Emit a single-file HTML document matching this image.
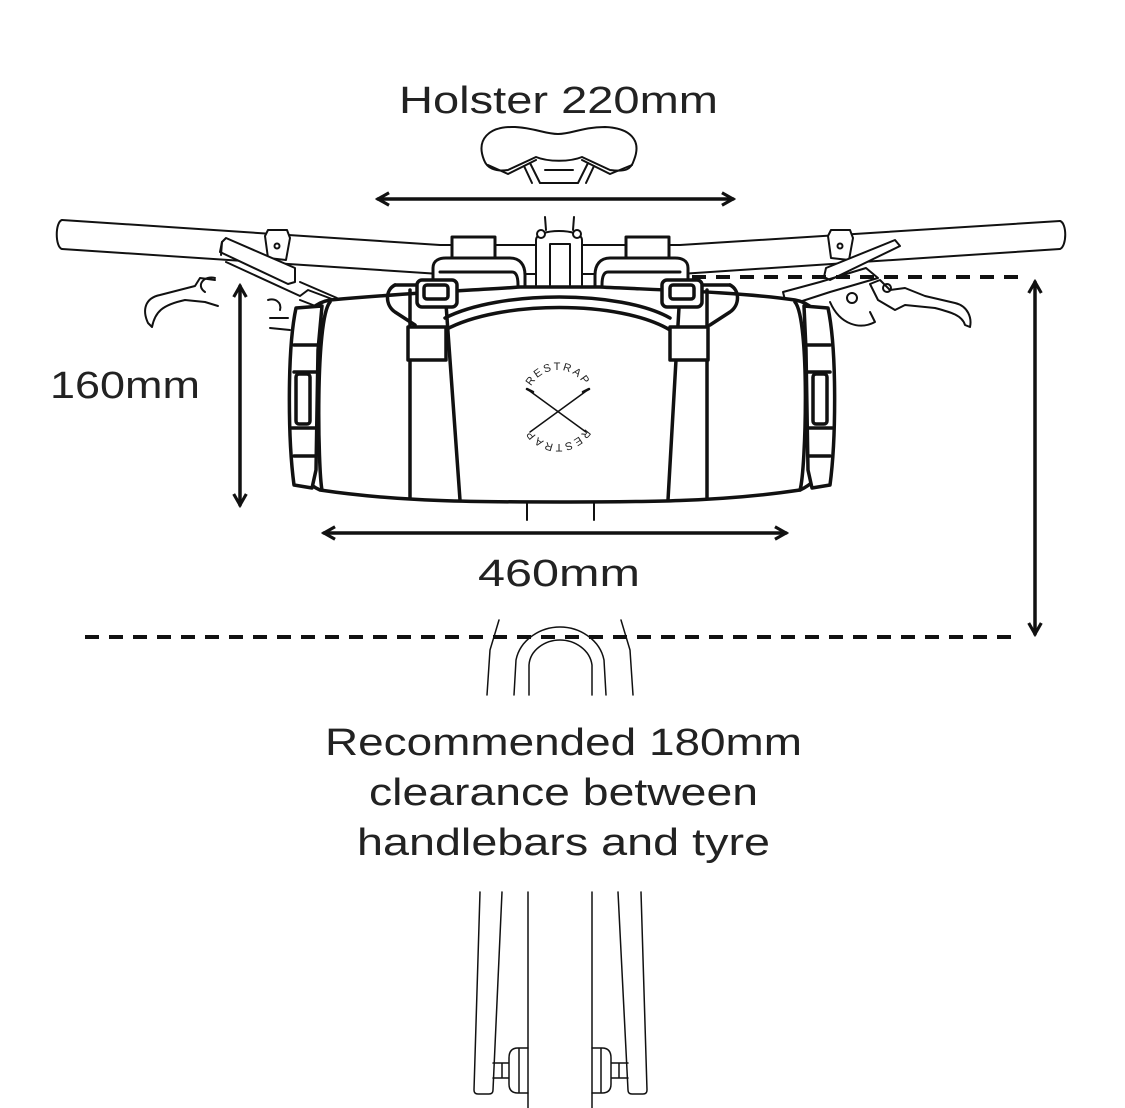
<!DOCTYPE html>
<html><head><meta charset="utf-8"><style>
html,body{margin:0;padding:0;background:#fff;}
svg{display:block}
text{font-family:"Liberation Sans",sans-serif;fill:#222;}
</style></head><body>
<svg width="1125" height="1108" viewBox="0 0 1125 1108" xmlns="http://www.w3.org/2000/svg">
<defs>
<marker id="ah" viewBox="0 0 10 10" refX="8" refY="5" markerWidth="4.5" markerHeight="4.5" orient="auto-start-reverse">
<path d="M1,1 L8,5 L1,9" fill="none" stroke="#111" stroke-width="2"/>
</marker>
<path id="arcTop" d="M528,400 A30,30 0 0 1 588,400"/>
<path id="arcBot" d="M590,412 A32,32 0 0 1 526,412"/>
</defs>
<g fill="none" stroke="#111" stroke-width="2" stroke-linejoin="round" stroke-linecap="round">
<!-- saddle -->
<path d="M484,160 C476,140 488,126 515,127 C535,128 545,134 558,134 C572,134 582,127 605,127 C630,128 642,140 634,160 C631,170 625,172 610,170 L582,157 C570,162 548,162 536,157 L508,170 C495,172 487,168 484,160 Z" fill="#fff"/>
<path d="M488,165 L508,174 L536,160 M632,165 L610,174 L582,160"/>
<path d="M524,166 L532,183 M530,163 L540,183 M594,166 L586,183 M588,163 L578,183 M540,183 L578,183 M545,170 L573,170"/>
<!-- handlebar -->
<path d="M62,220 L440,245 L680,245 L1060,221 M62,249 L440,274 L680,274 L1060,249" />
<path d="M62,220 C55,222 55,247 62,249 M1060,221 C1067,223 1067,246 1060,249"/>
<!-- left lever -->
<path d="M265,236 L268,230 L287,230 L290,238 L286,260 L268,258 Z" fill="#fff"/>
<circle cx="277" cy="246" r="2.5"/>
<path d="M222,242 L226,238 L295,268 L295,282 L288,284 L220,252 Z" fill="#fff"/>
<path d="M222,242 L221,255 M226,262 L300,296 L308,290 L340,302 L336,314 L300,300"/>
<path d="M300,282 L337,298"/>
<path d="M215,280 L200,278 L195,286 L160,295 C145,298 142,310 148,323 L152,327 C155,312 162,305 185,300 L205,302 L218,306"/>
<path d="M205,292 C195,285 205,275 215,278"/>
<path d="M268,300 C275,298 282,302 280,310 M270,318 L288,318 M270,328 L290,330"/>
<!-- right lever -->
<path d="M828,236 L831,230 L850,230 L853,238 L849,260 L831,258 Z" fill="#fff"/>
<circle cx="840" cy="246" r="2.5"/>
<path d="M895,240 L900,246 L830,280 L824,277 L826,268 Z" fill="#fff"/>
<path d="M785,300 L783,292 L820,282 L866,268 L878,278 L830,292 L790,305"/>
<circle cx="852" cy="298" r="5"/>
<path d="M830,302 C840,325 860,330 875,322 L870,312"/>
<path d="M870,284 L880,280 L890,290 L905,288 L925,296 L955,303 C968,306 972,318 970,327 L965,325 C962,315 950,312 935,308 L905,305 L895,310 L878,300 Z" fill="#fff"/>
<circle cx="887" cy="288" r="4"/>
<!-- stem -->
<path d="M536,285 L536,240 C536,228 582,228 582,240 L582,285" fill="#fff"/>
<path d="M550,285 L550,244 L570,244 L570,285"/>
<circle cx="541" cy="234" r="4" fill="#fff"/><circle cx="577" cy="234" r="4" fill="#fff"/>
<path d="M545,217 L546,230 M574,217 L573,230"/>
<!-- holsters -->
<rect x="452" y="237" width="43" height="22" fill="#fff" stroke-width="3"/>
<rect x="626" y="237" width="43" height="22" fill="#fff" stroke-width="3"/>
<path d="M433,285 L433,268 C433,260 440,258 446,258 L510,258 C520,258 525,265 525,275 L525,288" fill="#fff" stroke-width="3"/>
<path d="M440,272 L512,272 C516,272 518,276 518,285" stroke-width="3"/>
<path d="M595,288 L595,275 C595,265 600,258 610,258 L675,258 C681,258 688,260 688,268 L688,285" fill="#fff" stroke-width="3"/>
<path d="M602,285 C602,276 604,272 608,272 L680,272" stroke-width="3"/>
<!-- bag body -->
<g stroke-width="3.5">
<path d="M330,300 C420,292 480,290 520,287 L600,287 C660,290 740,292 795,300 C825,305 832,340 832,400 C832,460 822,480 800,490 C720,502 640,502 560,502 C480,502 400,502 320,490 C298,480 290,460 290,400 C290,340 300,305 330,300 Z" fill="#fff"/>
<path d="M330,302 C315,320 318,470 322,490"/>
<path d="M795,302 C810,320 806,470 800,490"/>
<path d="M296,308 L322,306 L318,350 L316,470 L312,488 L294,485 C288,440 287,350 296,308 Z" fill="#fff"/>
<path d="M828,308 L804,306 L806,350 L808,470 L812,488 L830,485 C836,440 837,350 828,308 Z" fill="#fff"/>
<path d="M294,345 L318,345 M294,372 L318,372 M292,428 L316,428 M294,456 L316,456"/>
<path d="M830,345 L806,345 M830,372 L806,372 M832,428 L808,428 M830,456 L808,456"/>
<rect x="296" y="374" width="14" height="50" rx="3" fill="#fff"/>
<rect x="813" y="374" width="14" height="50" rx="3" fill="#fff"/>
<path d="M395,285 C385,290 385,305 395,312 L415,325 M730,285 C740,290 740,305 730,312 L710,325"/>
<path d="M395,285 L440,285 M730,285 L690,285"/>
<path d="M445,318 C500,290 620,290 670,318 M445,330 C500,300 620,300 670,330"/>
<path d="M410,290 L410,498 M445,290 L460,500 M680,290 L668,500 M707,290 L707,498" />
<rect x="408" y="327" width="38" height="33" fill="#fff"/>
<rect x="670" y="327" width="38" height="33" fill="#fff"/>
<rect x="417" y="280" width="40" height="27" rx="5" fill="#fff"/>
<rect x="662" y="280" width="40" height="27" rx="5" fill="#fff"/>
<rect x="424" y="285" width="24" height="14" rx="3"/>
<rect x="670" y="285" width="24" height="14" rx="3"/>
</g>
<path d="M527,503 L527,520 M594,503 L594,520"/>
<path d="M527,389 L586,432 M589,389 L530,432" stroke-width="1.5"/>
<path d="M527,389 L533,392 M589,389 L583,392" stroke-width="2.5"/>
<!-- arrows -->
<path d="M378,199 L733,199" stroke-width="3.5" marker-start="url(#ah)" marker-end="url(#ah)"/>
<path d="M240,286 L240,505" stroke-width="3.5" marker-start="url(#ah)" marker-end="url(#ah)"/>
<path d="M324,533 L786,533" stroke-width="3.5" marker-start="url(#ah)" marker-end="url(#ah)"/>
<path d="M1035,282 L1035,634" stroke-width="3.5" marker-start="url(#ah)" marker-end="url(#ah)"/>
<path d="M692,277 L1020,277" stroke-width="4" stroke-dasharray="14,10" stroke-linecap="butt"/>
<path d="M85,637 L1020,637" stroke-width="4" stroke-dasharray="14,10" stroke-linecap="butt"/>
<g stroke-width="1.5">
<path d="M487,695 L490,650 L499,620 M633,695 L630,650 L621,620"/>
<path d="M514,695 L516,660 C520,640 540,627 560,627 C580,627 600,640 604,660 L606,695"/>
<path d="M529,695 L529,665 C530,650 545,640 560,640 C575,640 590,650 592,665 L592,695"/>
<path d="M480,892 L474,1090 Q474,1094 478,1094 L489,1094 Q493,1094 493,1090 L502,892"/>
<path d="M641,892 L647,1090 Q647,1094 643,1094 L632,1094 Q628,1094 628,1090 L618,892"/>
<path d="M528,892 L528,1108 M592,892 L592,1108"/>
<path d="M528,1048 L518,1048 Q509,1048 509,1058 L509,1084 Q509,1093 518,1093 L528,1093 M519,1048 L519,1093 M509,1063 L493,1063 M509,1078 L493,1078 M502,1063 L502,1078"/>
<path d="M592,1048 L602,1048 Q611,1048 611,1058 L611,1084 Q611,1093 602,1093 L592,1093 M601,1048 L601,1093 M611,1063 L628,1063 M611,1078 L628,1078 M619,1063 L619,1078"/>
</g>
</g>
<text font-size="11" letter-spacing="2"><textPath href="#arcTop" startOffset="50%" text-anchor="middle">RESTRAP</textPath></text>
<text font-size="11" letter-spacing="2"><textPath href="#arcBot" startOffset="50%" text-anchor="middle">RESTRAP</textPath></text>
<text x="399" y="113" font-size="38" textLength="319" lengthAdjust="spacingAndGlyphs">Holster 220mm</text>
<text x="50" y="398" font-size="38" textLength="150" lengthAdjust="spacingAndGlyphs">160mm</text>
<text x="478" y="586" font-size="38" textLength="162" lengthAdjust="spacingAndGlyphs">460mm</text>
<text x="325" y="755" font-size="38" textLength="477" lengthAdjust="spacingAndGlyphs">Recommended 180mm</text>
<text x="369" y="805" font-size="38" textLength="389" lengthAdjust="spacingAndGlyphs">clearance between</text>
<text x="357" y="855" font-size="38" textLength="413" lengthAdjust="spacingAndGlyphs">handlebars and tyre</text>
</svg>
</body></html>
